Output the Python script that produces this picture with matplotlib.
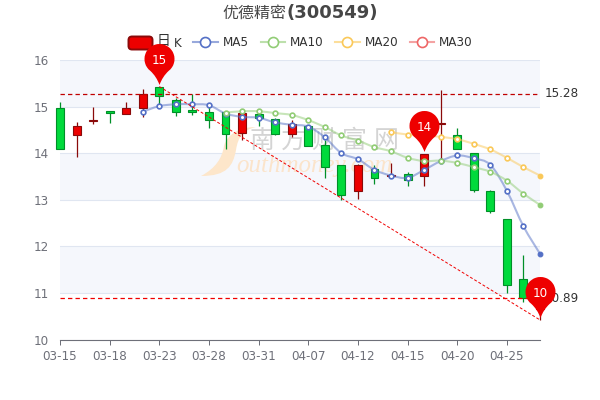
import numpy as np
import matplotlib
matplotlib.use('Agg')
import matplotlib.pyplot as plt
from matplotlib.path import Path
from matplotlib.patches import PathPatch, FancyBboxPatch
from matplotlib.lines import Line2D
from matplotlib.transforms import Affine2D

plt.rcParams['font.family'] = ['DejaVu Sans', 'Noto Sans CJK SC']

# data
dates = ['03-15', '03-16', '03-17', '03-18', '03-21', '03-22', '03-23', '03-24', '03-25', '03-28',
         '03-29', '03-30', '03-31', '04-01', '04-06', '04-07', '04-08', '04-11', '04-12', '04-13',
         '04-14', '04-15', '04-18', '04-19', '04-20', '04-21', '04-22', '04-25', '04-26', '04-27']
opens = [14.98, 14.38, 14.69, 14.90, 14.85, 14.98, 15.43, 15.15, 14.93, 14.88,
         14.88, 14.43, 14.85, 14.73, 14.42, 14.59, 14.17, 13.74, 13.19, 13.67,
         13.50, 13.55, 13.51, 14.63, 14.40, 14.00, 13.19, 12.59, 11.29, 10.65]
closes = [14.10, 14.58, 14.72, 14.87, 14.98, 15.28, 15.22, 14.88, 14.88, 14.71,
          14.42, 14.86, 14.75, 14.42, 14.63, 14.16, 13.71, 13.10, 13.75, 13.47,
          13.54, 13.42, 13.98, 14.65, 14.10, 13.22, 12.76, 11.18, 10.89, 11.05]
highs = [15.10, 14.66, 14.99, 14.90, 15.10, 15.37, 15.43, 15.18, 15.28, 15.03,
         14.88, 14.88, 14.88, 14.75, 14.71, 14.60, 14.28, 13.74, 13.77, 13.74,
         13.78, 13.60, 13.98, 15.36, 14.55, 14.00, 13.21, 12.59, 11.82, 11.20]
lows = [14.10, 13.91, 14.62, 14.64, 14.85, 14.78, 15.06, 14.80, 14.83, 14.53,
        14.10, 14.28, 14.59, 14.39, 14.35, 14.15, 13.47, 13.00, 13.01, 13.34,
        13.50, 13.30, 13.30, 13.78, 14.10, 13.16, 12.72, 11.00, 10.80, 10.42]

ma5 = [14.89, 15.01, 15.05, 15.05, 15.03, 14.85, 14.78, 14.76, 14.66, 14.61, 14.57, 14.34, 14.00,
       13.87, 13.64, 13.52, 13.47, 13.64, 13.83, 13.95, 13.89, 13.75, 13.19, 12.43, 11.84]
ma10 = [14.87, 14.90, 14.90, 14.86, 14.82, 14.71, 14.56, 14.38, 14.27, 14.13,
        14.04, 13.90, 13.83, 13.84, 13.79, 13.70, 13.60, 13.41, 13.13, 12.89]
ma20 = [14.45, 14.40, 14.38, 14.35, 14.30, 14.20, 14.08, 13.90, 13.70, 13.52]

max_close = 15.28
min_close = 10.89
pin_idx = [6, 22, 29]
pin_val = [15.43, 13.98, 10.42]
pin_txt = ['15', '14', '10']

RED, RED_EDGE = '#ec0000', '#8a0a0a'
GREEN, GREEN_EDGE = '#00da3c', '#008f28'
TXT = '#333333'
AXC = '#6e7079'


def smooth_path(xs, ys):
    # catmull-rom through the points, as bezier segments
    pts = np.column_stack([xs, ys])
    verts = [pts[0]]
    codes = [Path.MOVETO]
    for i in range(len(pts) - 1):
        p0 = pts[max(i - 1, 0)]
        p1 = pts[i]
        p2 = pts[i + 1]
        p3 = pts[min(i + 2, len(pts) - 1)]
        verts += [p1 + (p2 - p0) / 6, p2 - (p3 - p1) / 6, p2]
        codes += [Path.CURVE4] * 3
    return Path(verts, codes)


# teardrop marker, tip a little above the point (as the reference has it)
arc = Path.arc(-52, 232)
pin_v = list(arc.vertices * 15 + [0, 28.5])
pin_c = list(arc.codes)
pin_v += [(-3, 11), (0, 2.5), (3, 11), pin_v[0], pin_v[0]]
pin_c += [Path.CURVE3, Path.CURVE3, Path.CURVE3, Path.CURVE3, Path.CLOSEPOLY]
pin = Path(pin_v, pin_c)
pin_size = np.abs(pin.vertices).max() * 2 * 0.72

fig = plt.figure(figsize=(6, 4), dpi=100)
ax = fig.add_axes([60 / 600, 60.5 / 400, 480 / 600, 279.5 / 400])
px = Affine2D().scale(1, -1).translate(0, 400)  # reference pixel coords

x = np.arange(len(dates))
ax.set_xlim(0, 29)
ax.set_ylim(10, 16)

# bands and grid
for lo in [11, 13, 15]:
    ax.axhspan(lo, lo + 1, color='#f5f7fc', lw=0, zorder=0)
ax.set_yticks(range(10, 17))
ax.grid(axis='y', color='#e0e6f1', lw=0.8)
ax.set_axisbelow(True)
ax.set_xticks(x[::3])
ax.set_xticklabels(dates[::3])
ax.tick_params(axis='x', colors=AXC, labelsize=8.64, length=3.6, width=0.72, pad=4)
ax.tick_params(axis='y', colors=AXC, labelsize=8.64, length=0, pad=8)
for s in ['top', 'right', 'left']:
    ax.spines[s].set_visible(False)
ax.spines['bottom'].set_color(AXC)
ax.spines['bottom'].set_linewidth(0.8)

# watermark
crescent = Path([(201, 176), (216, 168), (222, 158), (224, 146), (227, 134), (240, 127), (256, 127),
                 (243, 130), (238, 137), (236, 150), (233, 166), (227, 176), (201, 176), (201, 176)],
                [Path.MOVETO] + [Path.CURVE4] * 12 + [Path.CLOSEPOLY])
ax.add_patch(PathPatch(crescent, transform=px, fc='#fde6ca', ec='none', zorder=1, clip_on=False))
for k, ch in enumerate('南方财富网'):
    ax.text(262 + 31 * k, 141, ch, transform=px, fontsize=18, color='#d4d4d4', family=['Noto Sans CJK SC'],
            ha='center', va='center', zorder=1)
ax.text(236, 172, 'outhmoney.com', transform=px, fontsize=18, color='#fbe4cb', family=['Liberation Serif'],
        style='italic', ha='left', va='baseline', zorder=1)

# candles
for i in x:
    up = closes[i] >= opens[i]
    fc, ec = (RED, RED_EDGE) if up else (GREEN, GREEN_EDGE)
    ax.vlines(i, lows[i], highs[i], color=ec, lw=0.9, zorder=3, clip_on=False)
    ax.bar(i, abs(closes[i] - opens[i]), bottom=min(opens[i], closes[i]), width=0.48,
           color=fc, edgecolor=ec, linewidth=0.8, zorder=3, clip_on=False)

# moving averages
for vals, col in [(ma5, '#5470c6'), (ma10, '#91cc75'), (ma20, '#fac858')]:
    xs = x[-len(vals):]
    ax.add_patch(PathPatch(smooth_path(xs, vals), fc='none', ec=col, lw=1.5, alpha=0.5, zorder=4, clip_on=False))
    ax.plot(xs[:-1], vals[:-1], ls='none', marker='o', ms=3.4, mfc='white', mec=col, mew=1.2, zorder=5, clip_on=False)
    ax.plot(xs[-1], vals[-1], ls='none', marker='o', ms=3.4, mfc=col, mec=col, mew=0.8, zorder=5, clip_on=False)

# mark lines
ax.plot([0, 29], [max_close, max_close], color='#c00000', ls=(0, (3.5, 2.5)), lw=0.9, zorder=6)
ax.plot([0, 29], [min_close, min_close], color='#f00000', ls=(0, (3.5, 2.5)), lw=0.9, zorder=6)
ax.plot([pin_idx[0], pin_idx[2]], [pin_val[0], pin_val[2]], color='#f00000', ls=(0, (3, 2)), lw=0.7, zorder=6,
        clip_on=False)
ax.annotate('15.28', (29, max_close), xytext=(3.6, 0), textcoords='offset points', color=TXT, fontsize=8.64,
            va='center', annotation_clip=False)
ax.annotate('10.89', (29, min_close), xytext=(3.6, 0), textcoords='offset points', color=TXT, fontsize=8.64,
            va='center', annotation_clip=False)

# legend, drawn by hand so the pin can sit on top
ax.add_patch(FancyBboxPatch((128.5, 36.5), 24, 13, boxstyle='round,pad=0,rounding_size=3.5', transform=px,
                            fc='#ec0000', ec=RED_EDGE, lw=1.4, clip_on=False, zorder=7))
ax.text(157, 45.5, '日', transform=px, family=['Noto Sans CJK SC'], fontsize=10, color=TXT, va='baseline', zorder=7)
ax.text(174, 47, 'K', transform=px, fontsize=8.64, color=TXT, va='baseline', zorder=7)
for name, x0, col in [('MA5', 193, '#5470c6'), ('MA10', 260.5, '#91cc75'), ('MA20', 335, '#fac858'), ('MA30', 409.5, '#ee6666')]:
    ax.add_artist(Line2D([x0, x0 + 24.5], [42, 42], transform=px, color=col, alpha=0.6, lw=1.5, clip_on=False, zorder=7))
    ax.add_artist(Line2D([x0 + 12.25], [42], transform=px, marker='o', ms=7.2, mfc='white', mec=col, mew=1.2,
                         ls='none', clip_on=False, zorder=7))
    ax.text(x0 + 29.5, 42, name, transform=px, fontsize=8.64, color=TXT, va='center', zorder=7)

# pins
for i, v, t in zip(pin_idx, pin_val, pin_txt):
    ax.plot(i, v, marker=pin, ms=pin_size, mfc='#ee0000', mec='none', ls='none', zorder=8, clip_on=False)
    ax.annotate(t, (i, v), xytext=(0, 19), textcoords='offset points', color='white', fontsize=8.64,
                ha='center', va='center', zorder=9, annotation_clip=False)

# title in two parts, plain name then bold code
fig.text(222 / 600, 1 - 13 / 400, '优德精密', family=['Noto Sans CJK SC'], fontsize=11.5, color='#464646',
         ha='left', va='center')
fig.text(286 / 600, 1 - 13 / 400, '(300549)', fontweight='bold', fontsize=13, color='#464646', ha='left', va='center')

fig.savefig('out.png', dpi=100)
